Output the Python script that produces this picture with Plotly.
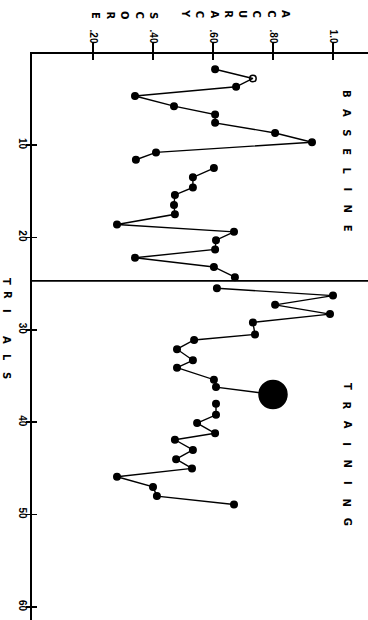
import plotly.graph_objects as go

# ---------------- data ----------------
baseline1_trial = [1.8, 2.8, 3.7, 4.7, 5.8, 6.7, 7.6, 8.7, 9.7, 10.8, 11.6]
baseline1_score = [0.607, 0.733, 0.677, 0.34, 0.47, 0.607, 0.607, 0.807, 0.93, 0.41, 0.343]

baseline2_trial = [12.5, 13.5, 14.6, 15.4, 16.5, 17.5, 18.6, 19.4, 20.3, 21.3, 22.2, 23.2, 24.3]
baseline2_score = [0.603, 0.533, 0.533, 0.473, 0.47, 0.473, 0.28, 0.67, 0.61, 0.607, 0.34, 0.603, 0.673]

training1_trial = [25.5, 26.3, 27.3, 28.3, 29.2, 30.5, 31.1, 32.1, 33.3, 34.1, 35.4, 36.2, 37.0]
training1_score = [0.613, 1.0, 0.807, 0.99, 0.733, 0.74, 0.537, 0.48, 0.533, 0.48, 0.603, 0.61, 0.80]

training2_trial = [38.0, 39.2, 40.1, 41.2, 41.9, 43.0, 44.0, 45.0, 45.9, 47.0, 48.0, 48.9]
training2_score = [0.61, 0.61, 0.547, 0.607, 0.473, 0.533, 0.477, 0.53, 0.28, 0.40, 0.413, 0.67]

phase_change_trial = 24.7

score_ticks = [0.2, 0.4, 0.6, 0.8, 1.0]
score_tick_labels = [".20", ".40", ".60", ".80", "1.0"]
trial_ticks = [10, 20, 30, 40, 50, 60]
trial_tick_labels = ["10", "20", "30", "40", "50", "60"]

# ---------------- layout geometry ----------------
W, H = 368, 620
L, T = 32, 54
FONT = "DejaVu Sans"
TICK_FONT = "Liberation Sans"
INK = "#000000"


def paper(px, py):
    return (px - L) / (W - L), 1 - (py - T) / (H - T)


fig = go.Figure()

segments = [
    (baseline1_trial, baseline1_score),
    (baseline2_trial, baseline2_score),
    (training1_trial, training1_score),
    (training2_trial, training2_score),
]
for i, (tr, sc) in enumerate(segments):
    sizes = [6.5] * len(tr)
    symbols = ["circle"] * len(tr)
    if i == 0:
        symbols[1] = "circle-open"
    if i == 2:
        sizes[-1] = 28  # ink blot over last point
    fig.add_trace(go.Scatter(
        x=sc, y=tr, mode="lines+markers",
        line=dict(color=INK, width=1.4),
        marker=dict(color=INK, size=sizes, symbol=symbols, opacity=1,
                    line=dict(color=INK, width=1.5)),
        showlegend=False, hoverinfo="skip",
    ))

# dummy trace for crossing (inside) ticks
fig.add_trace(go.Scatter(x=[None], y=[None], xaxis="x2", yaxis="y2",
                         showlegend=False, hoverinfo="skip"))

x_range = [(L - 33) / 300, (W - 33) / 300]
y_range = [(H - 52.6) / 9.24, (T - 52.6) / 9.24]

tick_font = dict(size=10, family=TICK_FONT, color=INK, weight="bold")

fig.update_layout(
    width=W, height=H,
    margin=dict(l=L, r=0, t=T, b=0),
    paper_bgcolor="white", plot_bgcolor="white",
    font=dict(family=FONT, color=INK, size=10),
    xaxis=dict(
        range=x_range, side="top", showline=True, linecolor=INK, linewidth=2,
        ticks="outside", ticklen=9, tickwidth=1.5, tickcolor=INK,
        tickvals=score_ticks, ticktext=score_tick_labels, tickangle=90,
        tickfont=tick_font, ticklabelstandoff=-4,
        showgrid=False, zeroline=False,
    ),
    yaxis=dict(
        range=y_range, showline=True, linecolor=INK, linewidth=2,
        ticks="outside", ticklen=4, tickwidth=1.5, tickcolor=INK,
        tickvals=trial_ticks, ticktext=trial_tick_labels, tickangle=90,
        tickfont=tick_font, ticklabelstandoff=-5,
        showgrid=False, zeroline=False,
    ),
    xaxis2=dict(
        matches="x", overlaying="x", side="top", anchor="y2",
        ticks="inside", ticklen=6, tickwidth=1.5, tickcolor=INK,
        tickvals=score_ticks, showticklabels=False, showline=False,
        showgrid=False, zeroline=False,
    ),
    yaxis2=dict(
        matches="y", overlaying="y", side="left", anchor="x2",
        ticks="inside", ticklen=5, tickwidth=1.5, tickcolor=INK,
        tickvals=trial_ticks, showticklabels=False, showline=False,
        showgrid=False, zeroline=False,
    ),
)

# phase-change line
fig.add_shape(type="line", xref="paper", x0=0, x1=1, yref="y",
              y0=phase_change_trial, y1=phase_change_trial,
              line=dict(color=INK, width=1.8))

annotations = []


def letters(word, positions, size=10):
    for ch, (px, py) in zip(word, positions):
        xp, yp = paper(px, py)
        annotations.append(dict(
            text=ch, x=xp, y=yp, xref="paper", yref="paper",
            xanchor="center", yanchor="middle", textangle=90,
            showarrow=False,
            font=dict(family=FONT, size=size, color=INK, weight="bold"),
        ))


letters("ACCURACY", [(285 - i * 14.3, 14) for i in range(8)])
letters("SCORE", [(153 - i * 14.5, 15) for i in range(5)])
letters("TRIALS", [(7, y) for y in [281, 295, 311, 340, 357, 375]])
letters("BASELINE", [(347, 94 + i * 19.1) for i in range(8)])
letters("TRAINING", [(347, 386 + i * 19.4) for i in range(8)])

fig.update_layout(annotations=annotations)

fig.write_html("out.html",
               config={"displayModeBar": False, "staticPlot": True},
               post_script="document.body.style.margin='0px';"
                           "document.body.style.overflow='hidden';")
